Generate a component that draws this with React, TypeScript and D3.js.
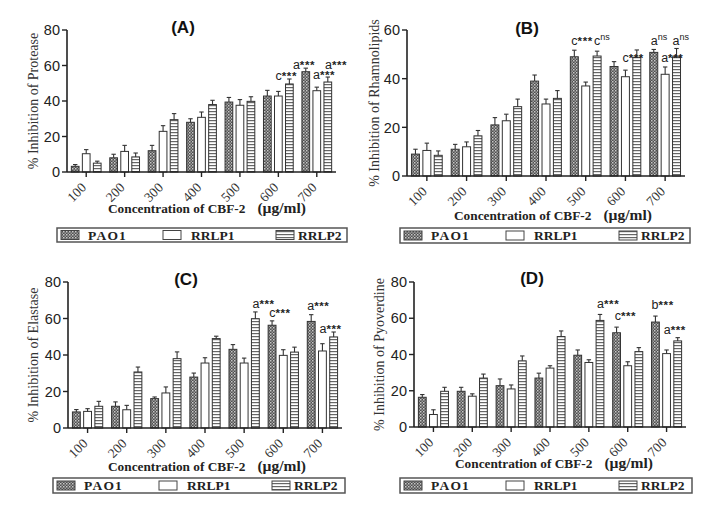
import React from 'react';
import * as d3 from 'd3';

// ---------- data ----------
const categories = ['100', '200', '300', '400', '500', '600', '700'];
const seriesNames = ['PAO1', 'RRLP1', 'RRLP2'];

// (A) Protease
const proteasePAO1 = [3.2, 8, 12, 28, 39.4, 42.8, 56.5];
const proteasePAO1Err = [1, 2, 3, 2, 2.6, 3.2, 2];
const proteaseRRLP1 = [10.3, 11.6, 22.9, 30.8, 37.6, 42.8, 45.8];
const proteaseRRLP1Err = [2.3, 3.4, 3.2, 3, 3.2, 2.6, 2];
const proteaseRRLP2 = [5, 8.5, 29.5, 38, 39.8, 49.6, 50.7];
const proteaseRRLP2Err = [1.1, 2.2, 3.4, 2.4, 2.6, 2.8, 2.8];

// (B) Rhamnolipids
const rhamnoPAO1 = [9, 11, 21, 39, 49, 45, 50.8];
const rhamnoPAO1Err = [2, 2, 3, 2.5, 2.7, 2, 1.2];
const rhamnoRRLP1 = [10.5, 12, 22.7, 29.6, 37, 40.8, 41.8];
const rhamnoRRLP1Err = [3, 2, 2.7, 2, 1.6, 2.7, 3];
const rhamnoRRLP2 = [8.5, 16.5, 28.5, 31.9, 49.3, 48.8, 49];
const rhamnoRRLP2Err = [1.8, 2.2, 3.1, 3.2, 2, 3, 3.4];

// (C) Elastase
const elastasePAO1 = [8.8, 11.9, 16.1, 27.9, 43.1, 56.3, 58.4];
const elastasePAO1Err = [1.3, 2.4, 0.9, 2.2, 2.6, 2.4, 3.7];
const elastaseRRLP1 = [9.1, 10, 19.2, 35.6, 35.6, 39.8, 42.2];
const elastaseRRLP1Err = [1.5, 2.4, 3.3, 2.9, 2.7, 3.1, 4];
const elastaseRRLP2 = [11.9, 30.7, 38, 49, 59.9, 41.6, 49.9];
const elastaseRRLP2Err = [2.7, 2.7, 3.7, 1.3, 3.7, 2.7, 2.7];

// (D) Pyoverdine
const pyoPAO1 = [16.4, 19.7, 22.8, 27, 39.6, 52, 57.9];
const pyoPAO1Err = [1.5, 2.2, 3.7, 2.7, 2.9, 3.1, 3.3];
const pyoRRLP1 = [6.9, 17, 21, 32.5, 35.6, 33.8, 40.5];
const pyoRRLP1Err = [2.6, 1.3, 2.2, 1.3, 1.5, 2.2, 2];
const pyoRRLP2 = [19.7, 27, 36.5, 49.9, 58.8, 41.6, 47.5];
const pyoRRLP2Err = [2.2, 2.2, 2.7, 3.1, 3.3, 2.2, 1.8];

// significance labels: category, series index the label starts over, label value level
const proteaseLabels = [
  { cat: '600', s: 1, v: 52, letter: 'c', sup: '***', dx: 1 },
  { cat: '700', s: 0, v: 58, letter: 'a', sup: '***', dx: -9 },
  { cat: '700', s: 1, v: 52.4, letter: 'a', sup: '***', dx: 0 },
  { cat: '700', s: 2, v: 58, letter: 'a', sup: '***', dx: 1 },
];
const rhamnoLabels = [
  { cat: '500', s: 0, v: 53.8, letter: 'c', sup: '***', dx: 1 },
  { cat: '500', s: 2, v: 53.8, letter: 'c', sup: 'ns', dx: 1 },
  { cat: '600', s: 1, v: 47, letter: 'c', sup: '***', dx: 1 },
  { cat: '700', s: 0, v: 53.8, letter: 'a', sup: 'ns', dx: 1 },
  { cat: '700', s: 1, v: 47, letter: 'a', sup: '***', dx: 0 },
  { cat: '700', s: 2, v: 53.8, letter: 'a', sup: 'ns', dx: 0 },
];
const elastaseLabels = [
  { cat: '500', s: 2, v: 65.7, letter: 'a', sup: '***', dx: 1 },
  { cat: '600', s: 0, v: 60.8, letter: 'c', sup: '***', dx: 1 },
  { cat: '700', s: 0, v: 64.7, letter: 'a', sup: '***', dx: 0 },
  { cat: '700', s: 1, v: 52, letter: 'a', sup: '***', dx: 1 },
];
const pyoLabels = [
  { cat: '500', s: 2, v: 65.7, letter: 'a', sup: '***', dx: 1 },
  { cat: '600', s: 0, v: 59, letter: 'c', sup: '***', dx: 2 },
  { cat: '700', s: 0, v: 65, letter: 'b', sup: '***', dx: 0 },
  { cat: '700', s: 1, v: 51.3, letter: 'a', sup: '***', dx: 1 },
];

const xTitleMain = 'Concentration of CBF-2';
const xTitleUnit = '(µg/ml)';

// ---------- layout ----------
const panels = [
  {
    id: 'A', title: '(A)', ylabel: '% Inhibition of Protease', yMax: 80,
    means: [proteasePAO1, proteaseRRLP1, proteaseRRLP2],
    errs: [proteasePAO1Err, proteaseRRLP1Err, proteaseRRLP2Err],
    labels: proteaseLabels,
    x0: 67, x1: 336, yTop: 30, yBot: 172, titleX: 183, titleY: 33,
    ylabelX: 33, xTitleX: 108, xTitleY: 213, legX: 57, legY: 228, legW: 290, legH: 14,
  },
  {
    id: 'B', title: '(B)', ylabel: '% Inhibition of Rhamnolipids', yMax: 60,
    means: [rhamnoPAO1, rhamnoRRLP1, rhamnoRRLP2],
    errs: [rhamnoPAO1Err, rhamnoRRLP1Err, rhamnoRRLP2Err],
    labels: rhamnoLabels,
    x0: 407, x1: 685, yTop: 30, yBot: 176, titleX: 527, titleY: 34,
    ylabelX: 374, xTitleX: 454, xTitleY: 220, legX: 400, legY: 228, legW: 290, legH: 15,
  },
  {
    id: 'C', title: '(C)', ylabel: '% Inhibition of Elastase', yMax: 80,
    means: [elastasePAO1, elastaseRRLP1, elastaseRRLP2],
    errs: [elastasePAO1Err, elastaseRRLP1Err, elastaseRRLP2Err],
    labels: elastaseLabels,
    x0: 68, x1: 342, yTop: 282, yBot: 428, titleX: 186, titleY: 285,
    ylabelX: 33, xTitleX: 108, xTitleY: 471, legX: 53, legY: 478, legW: 292, legH: 15,
  },
  {
    id: 'D', title: '(D)', ylabel: '% Inhibition of Pyoverdine', yMax: 80,
    means: [pyoPAO1, pyoRRLP1, pyoRRLP2],
    errs: [pyoPAO1Err, pyoRRLP1Err, pyoRRLP2Err],
    labels: pyoLabels,
    x0: 414, x1: 686, yTop: 282, yBot: 427, titleX: 532, titleY: 284,
    ylabelX: 379, xTitleX: 455, xTitleY: 468, legX: 400, legY: 478, legW: 292, legH: 15,
  },
];

const serif = '"Liberation Serif", "Times New Roman", serif';
const sans = '"Liberation Sans", Arial, sans-serif';
const fills = ['url(#patPAO1)', '#ffffff', 'url(#patRRLP2)'];

function Panel({ p }: { p: any }) {
  const y = d3.scaleLinear().domain([0, p.yMax]).range([p.yBot, p.yTop]);
  const x = d3.scaleBand().domain(categories).range([p.x0, p.x1]).padding(0);
  const bw = x.bandwidth();
  const span = bw * 0.86;
  const xs = d3
    .scaleBand()
    .domain(seriesNames)
    .range([(bw - span) / 2, (bw + span) / 2])
    .paddingInner(0.3)
    .paddingOuter(0.15);
  const barW = xs.bandwidth();
  const ticks = d3.range(0, p.yMax + 1, 20);
  const legendSwatch = [4, 106, 219];
  const legendText = [31, 134, 241];

  return (
    <g>
      {/* bars */}
      {seriesNames.map((s, si) =>
        categories.map((c, ci) => {
          const bx = (x(c) as number) + (xs(s) as number);
          const m = p.means[si][ci];
          const e = p.errs[si][ci];
          const cx = bx + barW / 2;
          return (
            <g key={s + c}>
              <rect x={bx} y={y(m)} width={barW} height={p.yBot - y(m)} fill={fills[si]} stroke="#333" strokeWidth={1} />
              <line x1={cx} x2={cx} y1={y(m)} y2={y(m + e)} stroke="#333" strokeWidth={1.1} />
              <line x1={cx - 2.2} x2={cx + 2.2} y1={y(m + e)} y2={y(m + e)} stroke="#333" strokeWidth={1.1} />
            </g>
          );
        })
      )}
      {/* y axis */}
      <line x1={p.x0} x2={p.x0} y1={p.yTop} y2={p.yBot} stroke="#222" strokeWidth={1.6} />
      {ticks.map((t) => (
        <g key={t}>
          <line x1={p.x0 - 5} x2={p.x0} y1={y(t)} y2={y(t)} stroke="#222" strokeWidth={1.4} />
          <text x={p.x0 - 7} y={y(t)} dy="0.36em" textAnchor="end" fontFamily={sans} fontSize={14.5} fill="#222">
            {t}
          </text>
        </g>
      ))}
      {/* x axis */}
      <line x1={p.x0} x2={p.x1} y1={p.yBot} y2={p.yBot} stroke="#222" strokeWidth={1.6} />
      {categories.map((c) => {
        const cx = (x(c) as number) + bw / 2;
        return (
          <g key={c}>
            <line x1={cx} x2={cx} y1={p.yBot} y2={p.yBot + 5} stroke="#222" strokeWidth={1.4} />
            <text
              transform={`translate(${cx - 2.5},${p.yBot + 13}) rotate(-45)`}
              textAnchor="end"
              dy="0.35em"
              fontFamily={serif}
              fontSize={13.5}
              fill="#333"
            >
              {c}
            </text>
          </g>
        );
      })}
      {/* significance labels */}
      {p.labels.map((a: any, i: number) => {
        const lx = (x(a.cat) as number) + (xs(seriesNames[a.s]) as number) + a.dx;
        return (
          <text key={i} x={lx} y={y(a.v)} fontFamily={sans} fontSize={12.5} fill="#222">
            <tspan>{a.letter}</tspan>
            {a.sup === 'ns' ? (
              <tspan fontSize={9} dy={-5}>ns</tspan>
            ) : (
              <tspan fontSize={11.5} fontWeight="bold" letterSpacing={0.6}>{a.sup}</tspan>
            )}
          </text>
        );
      })}
      {/* title */}
      <text x={p.titleX} y={p.titleY} textAnchor="middle" fontFamily={sans} fontWeight="bold" fontSize={17} fill="#111">
        {p.title}
      </text>
      {/* y label */}
      <text
        transform={`translate(${p.ylabelX},${(p.yTop + p.yBot) / 2}) rotate(-90)`}
        textAnchor="middle"
        dy="0.35em"
        fontFamily={serif}
        fontSize={14}
        fill="#333"
      >
        {p.ylabel}
      </text>
      {/* x title */}
      <text x={p.xTitleX} y={p.xTitleY} fontFamily={serif} fontWeight="bold" fill="#222">
        <tspan fontSize={13.3}>{xTitleMain}</tspan>
        <tspan fontSize={15.5} dx={12}>{xTitleUnit}</tspan>
      </text>
      {/* legend */}
      <rect x={p.legX} y={p.legY} width={p.legW} height={p.legH} fill="#fff" stroke="#555" strokeWidth={1.5} />
      {seriesNames.map((s, si) => (
        <g key={s}>
          <rect
            x={p.legX + legendSwatch[si]}
            y={p.legY + p.legH / 2 - 4.5}
            width={18}
            height={9}
            fill={fills[si]}
            stroke="#444"
            strokeWidth={1}
          />
          <text
            x={p.legX + legendText[si]}
            y={p.legY + p.legH / 2}
            dy="0.35em"
            fontFamily={serif}
            fontWeight="bold"
            fontSize={13.5}
            letterSpacing={si === 0 ? 1.2 : 0}
            fill="#222"
          >
            {s}
          </text>
        </g>
      ))}
    </g>
  );
}

export default function App() {
  return (
    <svg
      width={717}
      height={508}
      style={{ position: 'absolute', left: 0, top: 0, background: '#fff' }}
    >
      <defs>
        <pattern id="patPAO1" width={3} height={3} patternUnits="userSpaceOnUse">
          <rect width={3} height={3} fill="#505050" />
          <rect x={0} y={0} width={1.5} height={1.5} fill="#c8c8c8" />
          <rect x={1.5} y={1.5} width={1.5} height={1.5} fill="#9a9a9a" />
        </pattern>
        <pattern id="patRRLP2" width={4} height={3} patternUnits="userSpaceOnUse">
          <rect width={4} height={3} fill="#fff" />
          <rect x={0} y={0} width={4} height={1.2} fill="#666" />
        </pattern>
      </defs>
      <rect width={717} height={508} fill="#fff" />
      {panels.map((p) => (
        <Panel key={p.id} p={p} />
      ))}
    </svg>
  );
}
